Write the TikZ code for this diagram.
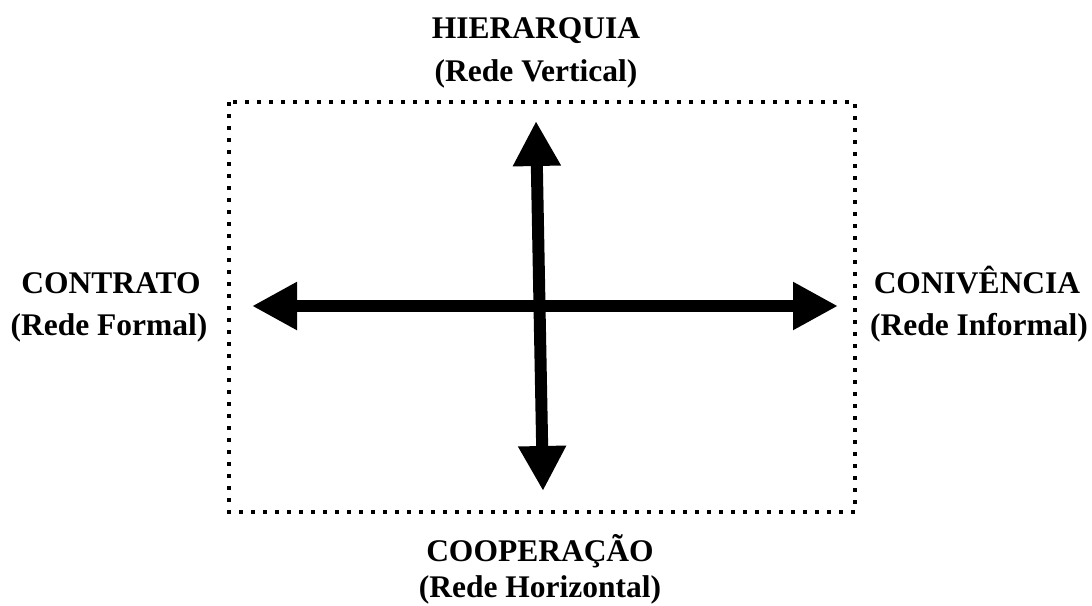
\documentclass[tikz,border=0pt]{standalone}
\usepackage{fontspec}
\setmainfont{Liberation Serif}
\usetikzlibrary{arrows.meta}
\begin{document}
\begin{tikzpicture}[x=1pt,y=-1pt,
  lbl/.style={font=\fontsize{31.5}{36}\selectfont\bfseries, inner sep=0pt, anchor=base},
  biarrow/.style={line width=12pt, {Triangle[length=45pt 0, width=45pt 0]}-{Triangle[length=45pt 0, width=45pt 0]}},
  frame/.style={line width=4pt, dash pattern=on 4pt off 8pt}]
\useasboundingbox (0,0) rectangle (1092,605);
\draw[frame] (229,102) rectangle (855,512);
\coordinate (vtop) at (536,121);
\coordinate (vbot) at (543,491);
\coordinate (hleft) at (252,306);
\coordinate (hright) at (838,306);
\draw[biarrow] (vtop) -- (vbot);
\draw[biarrow] (hleft) -- (hright);
\node[lbl] (t1) at (536,38) {HIERARQUIA};
\node[lbl] (t2) at (536,81) {(Rede Vertical)};
\node[lbl] (l1) at (111,293) {CONTRATO};
\node[lbl] (l2) at (109,335) {(Rede Formal)};
\node[lbl] (r1) at (977,293) {CONIVÊNCIA};
\node[lbl] (r2) at (979,335) {(Rede Informal)};
\node[lbl] (b1) at (540,561) {COOPERAÇÃO};
\node[lbl] (b2) at (540,597) {(Rede Horizontal)};
\end{tikzpicture}
\end{document}
